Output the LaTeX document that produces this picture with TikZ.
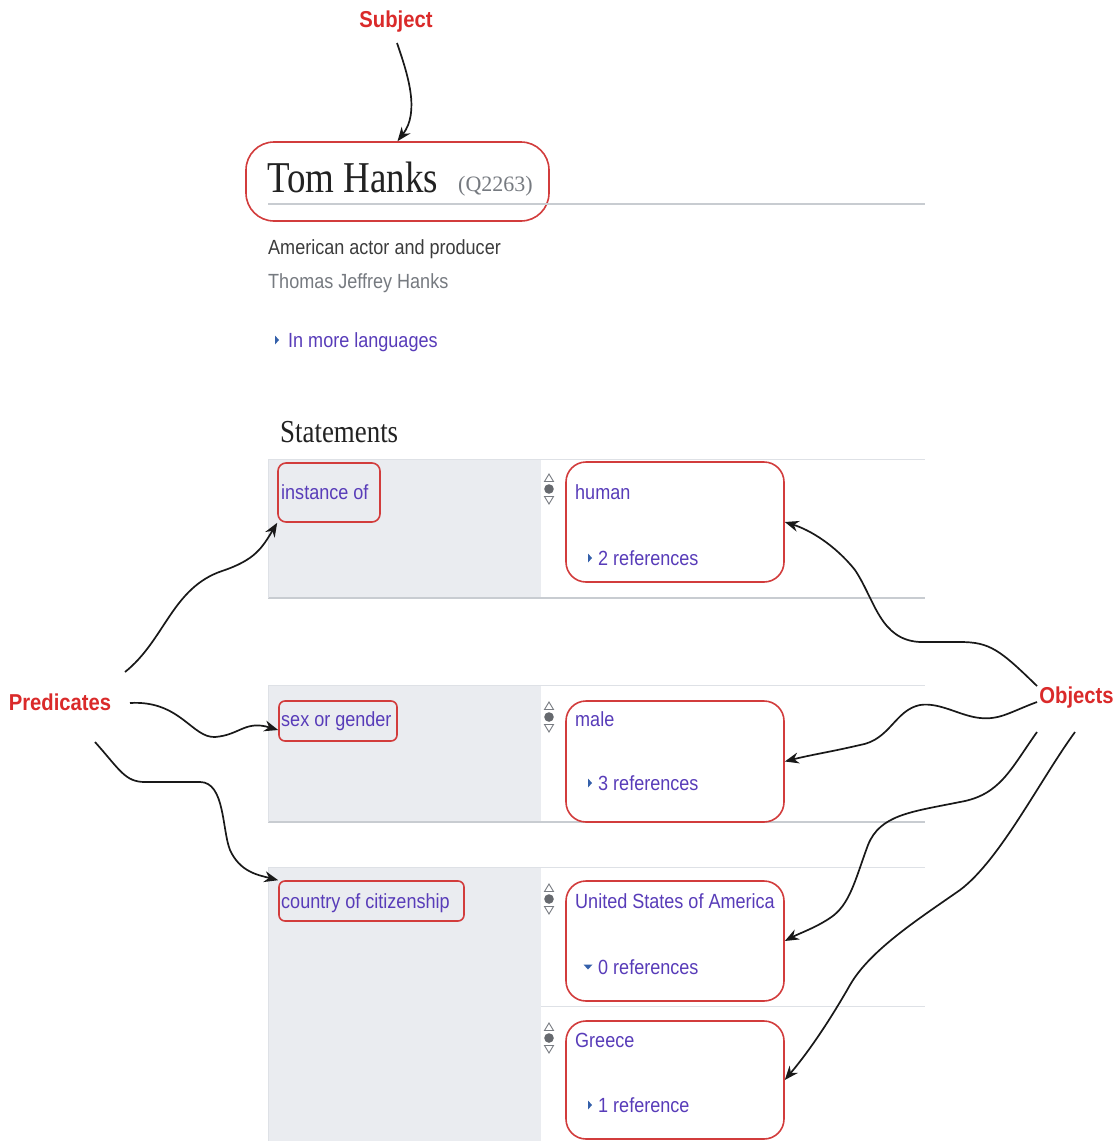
\documentclass[tikz,border=0pt]{standalone}
\usepackage{fontspec}
\setmainfont{Liberation Serif}
\setsansfont{Liberation Sans}[FakeStretch=0.88]
\newfontfamily\tallserif{Liberation Serif}[FakeStretch=0.84]
\usetikzlibrary{arrows.meta}

\definecolor{markred}{RGB}{218,42,42}
\definecolor{boxred}{RGB}{210,60,60}
\definecolor{linkpurple}{RGB}{88,60,185}
\definecolor{panelgray}{RGB}{234,236,240}
\definecolor{rulegray}{RGB}{200,204,209}
\definecolor{softrule}{RGB}{222,225,230}
\definecolor{inkdark}{RGB}{34,34,34}
\definecolor{inkmid}{RGB}{60,60,60}
\definecolor{inkgray}{RGB}{118,122,128}
\definecolor{caretblue}{RGB}{52,96,170}
\definecolor{icongray}{RGB}{120,124,130}

\tikzset{
  callout/.style={font=\sffamily\bfseries\fontsize{23}{26}\selectfont, text=markred, inner sep=0pt},
  hlbox/.style={draw=boxred, line width=1.6pt, inner sep=0pt},
  linktext/.style={font=\sffamily\fontsize{20.5}{24}\selectfont, text=linkpurple, inner sep=0pt, anchor=base west},
  plaintext/.style={font=\sffamily\fontsize{20.5}{24}\selectfont, inner sep=0pt, anchor=base west},
  pointer/.style={draw=black!90, line width=1.7pt, -{Stealth[length=14pt,width=11pt]}},
  rankicon/.pic={
    \draw[icongray, line width=0.9pt] (0,-15) -- (4.5,-7.5) -- (-4.5,-7.5) -- cycle;
    \fill[icongray!85!black] (0,0) circle[radius=4.8pt];
    \draw[icongray, line width=0.9pt] (0,15) -- (4.5,7.5) -- (-4.5,7.5) -- cycle;
  },
  caretright/.pic={\fill[caretblue] (0,-4.5) -- (4,0) -- (0,4.5) -- cycle;},
  caretdown/.pic={\fill[caretblue] (-4.5,-2.5) -- (4.5,-2.5) -- (0,2.5) -- cycle;}
}

\begin{document}
\begin{tikzpicture}[x=1pt, y=-1pt]
  \useasboundingbox (0,0) rectangle (1116,1141);
  \fill[white] (0,0) rectangle (1116,1141);

  % ---- item header ----
  \node[hlbox, rounded corners=28pt, minimum width=303pt, minimum height=79pt] (tom) at (397.5,181.5) {};
  \draw[rulegray, line width=2.5pt] (268,204) -- (925,204);
  \node[font=\tallserif\fontsize{44}{46}\selectfont, text=inkdark, inner sep=0pt, anchor=base west] (title) at (267,192) {Tom Hanks};
  \node[font=\fontsize{22}{26}\selectfont, text=inkgray, inner sep=0pt, anchor=base west] (qid) at (458,191) {(Q2263)};
  \node[plaintext, text=inkmid] (descr) at (268,254) {American actor and producer};
  \node[plaintext, text=inkgray] (alias) at (268,288) {Thomas Jeffrey Hanks};
  \pic at (275,340) {caretright};
  \node[linktext] (langs) at (288,347) {In more languages};
  \node[font=\tallserif\fontsize{32}{34}\selectfont, text=inkdark, inner sep=0pt, anchor=base west] (stmts) at (280,442) {Statements};

  % ---- statement group: instance of ----
  \fill[panelgray] (268,459) rectangle (541,598);
  \draw[softrule, line width=1pt] (268,459) -- (925,459);
  \draw[rulegray, line width=1.2pt] (268,598) -- (925,598);
  \draw[softrule, line width=1pt] (268,459) -- (268,598);
  \node[hlbox, rounded corners=8pt, minimum width=102pt, minimum height=59pt] (inst) at (329,492.5) {};
  \node[linktext] (instt) at (281,499) {instance of};
  \pic at (549,489) {rankicon};
  \node[hlbox, rounded corners=20pt, minimum width=218pt, minimum height=120pt] (human) at (675,522) {};
  \node[linktext] (humant) at (575,499) {human};
  \pic at (588,558) {caretright};
  \node[linktext] (humanr) at (598,565) {2 references};

  % ---- statement group: sex or gender ----
  \fill[panelgray] (268,685) rectangle (541,822);
  \draw[softrule, line width=1pt] (268,685) -- (925,685);
  \draw[rulegray, line width=1.2pt] (268,822) -- (925,822);
  \draw[softrule, line width=1pt] (268,685) -- (268,822);
  \node[hlbox, rounded corners=6pt, minimum width=118pt, minimum height=40pt] (sex) at (338,721) {};
  \node[linktext] (sext) at (281,726) {sex or gender};
  \pic at (549,717) {rankicon};
  \node[hlbox, rounded corners=20pt, minimum width=218pt, minimum height=121pt] (male) at (675,761.5) {};
  \node[linktext] (malet) at (575,726) {male};
  \pic at (588,783) {caretright};
  \node[linktext] (maler) at (598,790) {3 references};

  % ---- statement group: country of citizenship ----
  \fill[panelgray] (268,867) rectangle (541,1141);
  \draw[softrule, line width=1pt] (268,867) -- (925,867);
  \draw[softrule, line width=1pt] (268,867) -- (268,1141);
  \draw[softrule, line width=1pt] (541,1006) -- (925,1006);
  \node[hlbox, rounded corners=6pt, minimum width=185pt, minimum height=40pt] (cty) at (371.5,901) {};
  \node[linktext] (ctyt) at (281,908) {country of citizenship};
  \pic at (549,899) {rankicon};
  \node[hlbox, rounded corners=20pt, minimum width=218pt, minimum height=120pt] (usa) at (675,941) {};
  \node[linktext] (usat) at (575,908) {United States of America};
  \pic at (588,967) {caretdown};
  \node[linktext] (usar) at (598,974) {0 references};
  \pic at (549,1038) {rankicon};
  \node[hlbox, rounded corners=20pt, minimum width=218pt, minimum height=118pt] (greece) at (675,1080) {};
  \node[linktext] (greecet) at (575,1047) {Greece};
  \pic at (588,1105) {caretright};
  \node[linktext] (greecer) at (598,1112) {1 reference};

  % ---- callout labels ----
  \node[callout] (subj) at (396,22) {Subject};
  \node[callout] (pred) at (60,702) {Predicates};
  \node[callout] (objs) at (1076.5,698) {Objects};

  \coordinate (s0) at (397,43);
  \coordinate (p1) at (125,672);
  \coordinate (p2) at (130,703);
  \coordinate (p3) at (95,742);
  \coordinate (o1) at (1037,686);
  \coordinate (o2) at (1037,702);
  \coordinate (o3) at (1037,732);
  \coordinate (o4) at (1075,732);

  % ---- pointers ----
  \draw[pointer] (s0) .. controls (408,75) and (420,112) .. (tom.north);

  \draw[pointer] (p1) .. controls (165,640) and (172,588) .. (222,571)
                      .. controls (255,560) and (262,548) .. (inst.south west);
  \draw[pointer] (p2) .. controls (180,700) and (192,738) .. (215,737)
                      .. controls (240,735) and (245,720) .. ([yshift=-9pt]sex.west);
  \draw[pointer] (p3) .. controls (120,770) and (125,782) .. (145,782) -- (200,782)
                      .. controls (225,782) and (222,830) .. (230,850)
                      .. controls (240,872) and (258,875) .. (cty.north west);

  \draw[pointer] (o1) .. controls (1000,650) and (990,642) .. (960,642) -- (920,642)
                      .. controls (880,640) and (875,600) .. (855,570)
                      .. controls (835,545) and (810,530) .. (human.east);
  \draw[pointer] (o2) .. controls (1010,712) and (1000,720) .. (980,718)
                      .. controls (960,716) and (940,702) .. (920,705)
                      .. controls (895,710) and (890,740) .. (860,745)
                      .. controls (830,752) and (810,755) .. (male.east);
  \draw[pointer] (o3) .. controls (1010,770) and (1000,795) .. (960,802)
                      .. controls (910,812) and (880,815) .. (868,845)
                      .. controls (855,880) and (850,905) .. (830,918)
                      .. controls (815,928) and (800,933) .. (usa.east);
  \draw[pointer] (o4) .. controls (1040,780) and (1000,860) .. (960,890)
                      .. controls (920,918) and (870,950) .. (850,985)
                      .. controls (830,1020) and (810,1050) .. (greece.east);
\end{tikzpicture}
\end{document}
